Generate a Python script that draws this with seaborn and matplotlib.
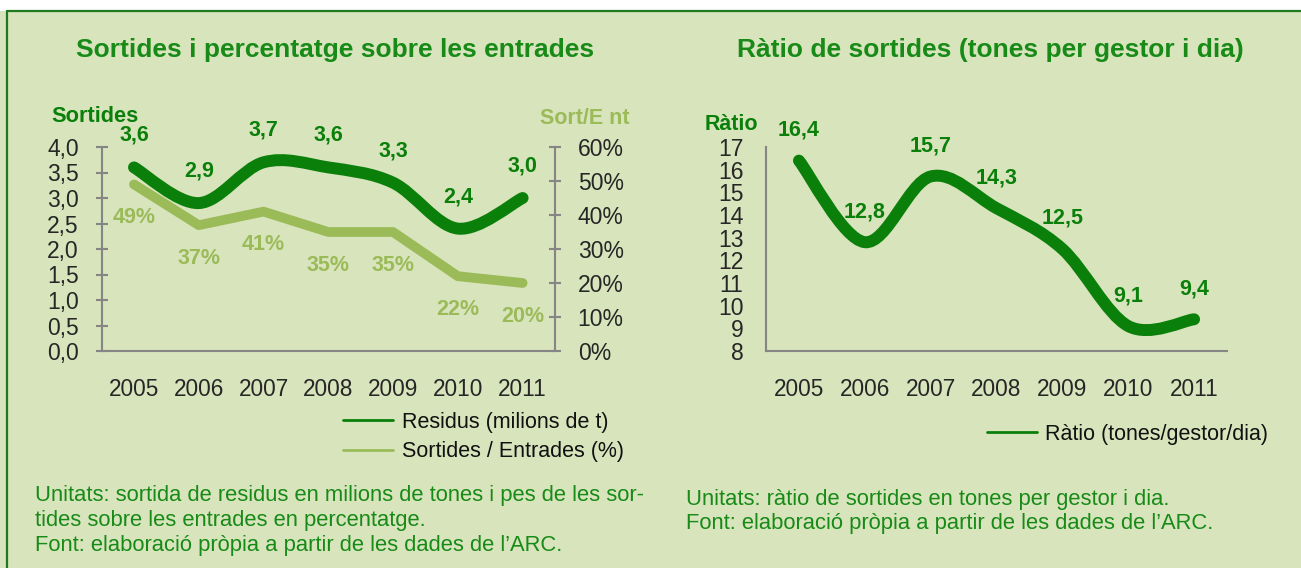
import numpy as np
import seaborn as sns
import matplotlib.pyplot as plt
from matplotlib.path import Path
from matplotlib.patches import PathPatch, Rectangle
from matplotlib.lines import Line2D
from matplotlib.ticker import FixedLocator, FuncFormatter, NullFormatter

# data
years = ['2005', '2006', '2007', '2008', '2009', '2010', '2011']
residus = [3.6, 2.9, 3.7, 3.6, 3.3, 2.4, 3.0]          # milions de t
sort_ent = [49, 37, 41, 35, 35, 22, 20]                 # %
ratio = [16.4, 12.8, 15.7, 14.3, 12.5, 9.1, 9.4]        # tones/gestor/dia

BG = '#D8E4BC'
DARK = '#0A7F0A'
LIGHT = '#9BBB59'
TXT = '#178A17'
GREY = '#858585'

sns.set_theme(style='white')
plt.rcParams['font.family'] = ['Liberation Sans', 'DejaVu Sans']
plt.rcParams['text.color'] = '#111111'

W, H = 1301, 568
fig = plt.figure(figsize=(W / 100, H / 100), dpi=100, facecolor=BG)


def fx(px):
    return px / W


def fy(py):
    return 1 - py / H


# frame: white strip on top + dark green border
fig.patches.append(Rectangle((0, fy(11)), 1, 11 / H, transform=fig.transFigure,
                             facecolor='white', edgecolor='none', zorder=0))
fig.add_artist(Line2D([fx(7), 1], [fy(11), fy(11)], color='#1F7A1F', lw=1.6))
fig.add_artist(Line2D([fx(7), fx(7)], [fy(11), 0], color='#1F7A1F', lw=1.6))


def smooth_path(xs, ys):
    # excel-like smoothed line: bezier segments through the points
    pts = np.column_stack([xs, ys]).astype(float)
    ext = np.vstack([pts[0], pts, pts[-1]])
    verts = [pts[0]]
    codes = [Path.MOVETO]
    for i in range(len(pts) - 1):
        p0, p1, p2, p3 = ext[i], ext[i + 1], ext[i + 2], ext[i + 3]
        verts += [p1 + (p2 - p0) / 6, p2 - (p3 - p1) / 6, p2]
        codes += [Path.CURVE4] * 3
    return Path(verts, codes)


def style_axes(ax):
    ax.set_facecolor('none')
    for s in ['top', 'right']:
        ax.spines[s].set_visible(False)
    for s in ['left', 'bottom']:
        ax.spines[s].set_color(GREY)
        ax.spines[s].set_linewidth(1.5)
    ax.set_xlim(-0.5, len(years) - 0.5)
    ax.xaxis.set_major_locator(FixedLocator(np.arange(-0.5, len(years))))
    ax.xaxis.set_major_formatter(NullFormatter())
    ax.xaxis.set_minor_locator(FixedLocator(np.arange(len(years))))
    ax.set_xticklabels(years, minor=True)
    ax.tick_params(axis='x', which='major', direction='inout', length=8.6,
                   width=1.5, color=GREY)
    ax.tick_params(axis='x', which='minor', length=0, pad=19.5, labelsize=16.3)
    ax.tick_params(axis='y', direction='inout', length=8.6, width=1.5,
                   color=GREY, labelsize=16.5, pad=12)
    ax.set_xlabel('')
    ax.set_ylabel('')


x = np.arange(len(years))

# ---------------- left chart ----------------
ax1 = fig.add_axes([fx(101.6), fy(351), fx(555) - fx(101.6), (351 - 147) / H])
style_axes(ax1)
ax1.set_ylim(0, 4)
ax1.set_yticks(np.arange(0, 4.01, 0.5))
ax1.yaxis.set_major_formatter(FuncFormatter(lambda v, p: f'{v:.1f}'.replace('.', ',')))
ax1.add_patch(PathPatch(smooth_path(x, residus), fill=False, edgecolor=DARK,
                        lw=8.6, capstyle='round', joinstyle='round', zorder=3))
for xi, v in zip(x, residus):
    ax1.annotate(f'{v:.1f}'.replace('.', ','), (xi, v), xytext=(0, 23),
                 textcoords='offset points', ha='center', va='center',
                 color=DARK, fontsize=15.5, fontweight='bold')

ax2 = ax1.twinx()
ax2.set_facecolor('none')
sns.lineplot(x=x, y=sort_ent, ax=ax2, color=LIGHT, lw=7,
             solid_joinstyle='round', solid_capstyle='round')
ax2.set_ylim(0, 60)
ax2.set_yticks(np.arange(0, 61, 10))
ax2.yaxis.set_major_formatter(FuncFormatter(lambda v, p: f'{v:.0f}%'))
for s in ['top', 'left', 'bottom']:
    ax2.spines[s].set_visible(False)
ax2.spines['right'].set_color(GREY)
ax2.spines['right'].set_linewidth(1.5)
ax2.tick_params(axis='y', direction='inout', length=8.6, width=1.5,
                color=GREY, labelsize=16.5, pad=12)
ax2.set_ylabel('')
for xi, v in zip(x, sort_ent):
    ax2.annotate(f'{v:.0f}%', (xi, v), xytext=(0, -24),
                 textcoords='offset points', ha='center', va='center',
                 color=LIGHT, fontsize=15.5, fontweight='bold')

fig.text(fx(335), fy(50), 'Sortides i percentatge sobre les entrades', ha='center',
         va='center', color=TXT, fontsize=19, fontweight='bold')
fig.text(fx(95), fy(116), 'Sortides', ha='center', va='center', color=DARK,
         fontsize=15.7, fontweight='bold')
fig.text(fx(585), fy(119), 'Sort/E nt', ha='center', va='center', color=LIGHT,
         fontsize=15.5, fontweight='bold')

fig.legend(handles=[Line2D([], [], color=DARK, lw=2),
                    Line2D([], [], color=LIGHT, lw=2)],
           labels=['Residus (milions de t)', 'Sortides / Entrades (%)'],
           loc='upper left', bbox_to_anchor=(fx(343), fy(412)), frameon=False,
           fontsize=15.5, handlelength=2.33, handletextpad=0.42, labelspacing=0.38,
           borderpad=0, borderaxespad=0)

fig.text(fx(35), fy(496), 'Unitats: sortida de residus en milions de tones i pes de les sor-',
         ha='left', va='center', color=TXT, fontsize=15.8)
fig.text(fx(35), fy(520.5), 'tides sobre les entrades en percentatge.',
         ha='left', va='center', color=TXT, fontsize=15.8)
fig.text(fx(35), fy(545), 'Font: elaboració pròpia a partir de les dades de l\u2019ARC.',
         ha='left', va='center', color=TXT, fontsize=15.8)

# ---------------- right chart ----------------
ax3 = fig.add_axes([fx(766), fy(351), fx(1227) - fx(766), (351 - 147) / H])
style_axes(ax3)
ax3.set_ylim(8, 17)
ax3.set_yticks(np.arange(8, 18, 1))
ax3.add_patch(PathPatch(smooth_path(x, ratio), fill=False, edgecolor=DARK,
                        lw=8.6, capstyle='round', joinstyle='round', zorder=3))
for xi, v in zip(x, ratio):
    ax3.annotate(f'{v:.1f}'.replace('.', ','), (xi, v), xytext=(0, 22),
                 textcoords='offset points', ha='center', va='center',
                 color=DARK, fontsize=15.5, fontweight='bold')

fig.text(fx(990), fy(50), 'Ràtio de sortides (tones per gestor i dia)', ha='center',
         va='center', color=TXT, fontsize=19, fontweight='bold')
fig.text(fx(731), fy(125), 'Ràtio', ha='center', va='center', color=DARK,
         fontsize=15.5, fontweight='bold')

fig.legend(handles=[Line2D([], [], color=DARK, lw=2)],
           labels=['Ràtio (tones/gestor/dia)'],
           loc='upper left', bbox_to_anchor=(fx(987), fy(424)), frameon=False,
           fontsize=15.5, handlelength=2.33, handletextpad=0.38,
           borderpad=0, borderaxespad=0)

fig.text(fx(686), fy(499), 'Unitats: ràtio de sortides en tones per gestor i dia.',
         ha='left', va='center', color=TXT, fontsize=15.8)
fig.text(fx(686), fy(523), 'Font: elaboració pròpia a partir de les dades de l\u2019ARC.',
         ha='left', va='center', color=TXT, fontsize=15.8)

fig.savefig('out.png', dpi=100, facecolor=BG)
